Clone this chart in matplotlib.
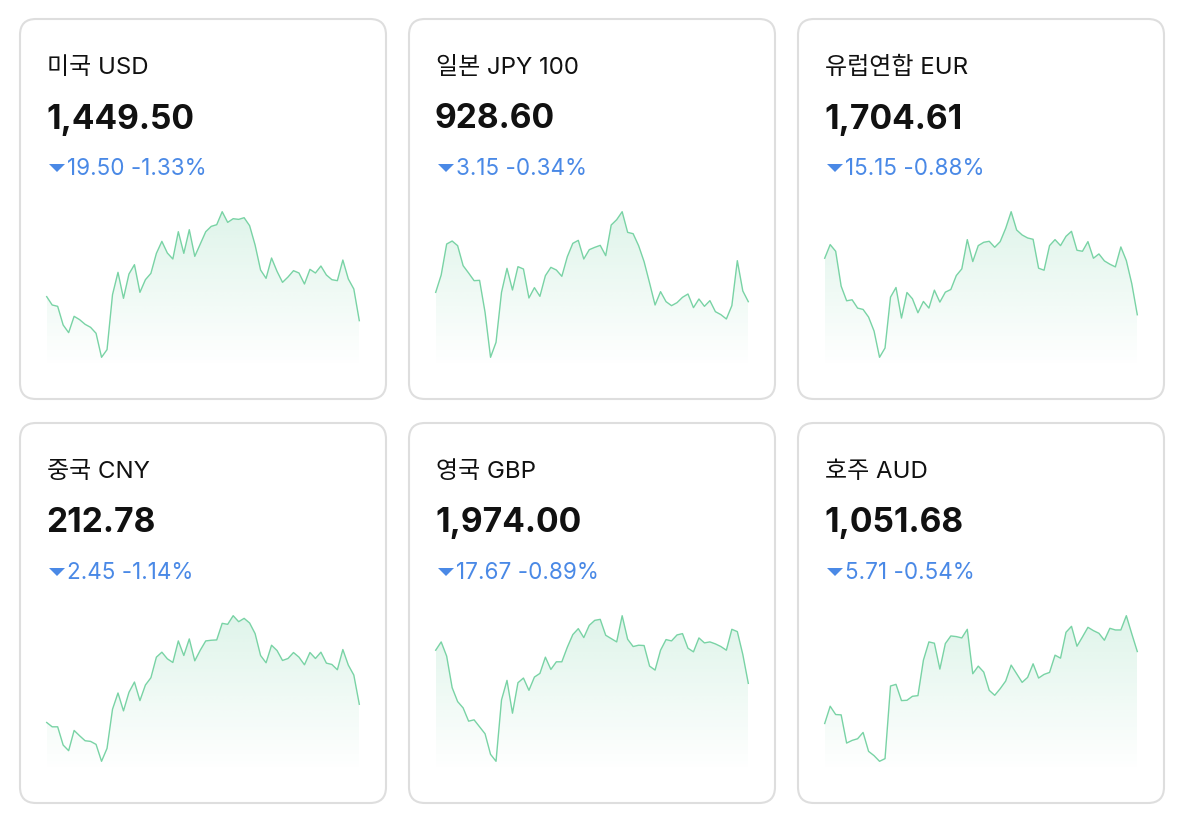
import matplotlib
matplotlib.use("Agg")
import matplotlib.pyplot as plt
from matplotlib.patches import FancyBboxPatch, Polygon
import numpy as np

plt.rcParams['font.family'] = ['Inter', 'Noto Sans CJK KR', 'DejaVu Sans']

# ---------------- data ----------------
titles = ["미국 USD", "일본 JPY 100", "유럽연합 EUR", "중국 CNY", "영국 GBP", "호주 AUD"]
prices = ["1,449.50", "928.60", "1,704.61", "212.78", "1,974.00", "1,051.68"]
changes = ["19.50 -1.33%", "3.15 -0.34%", "15.15 -0.88%", "2.45 -1.14%", "17.67 -0.89%", "5.71 -0.54%"]

# sparkline levels (relative units; higher = larger)
usd = [207, 182, 178, 122, 99, 148, 138, 124, 115, 97, 25, 48, 213, 280, 202, 275, 303, 220, 258, 277,
       337, 373, 338, 320, 402, 337, 408, 328, 365, 402, 418, 423, 462, 430, 441, 439, 444, 420, 362, 287,
       262, 323, 283, 250, 266, 285, 278, 245, 289, 278, 299, 272, 258, 255, 317, 260, 230, 135]
jpy = [220, 272, 365, 374, 360, 300, 278, 255, 256, 160, 25, 70, 220, 292, 227, 297, 290, 203, 234, 208,
       270, 295, 287, 268, 327, 367, 376, 320, 348, 355, 361, 330, 422, 438, 462, 400, 396, 360, 312, 248,
       182, 222, 192, 180, 189, 205, 215, 174, 200, 178, 195, 162, 153, 140, 180, 315, 224, 192]
eur = [322, 363, 343, 238, 194, 197, 172, 168, 145, 103, 24, 52, 205, 234, 142, 219, 200, 158, 192, 172,
       226, 190, 220, 228, 270, 290, 378, 312, 360, 370, 373, 355, 372, 412, 462, 407, 392, 383, 379, 292,
       286, 360, 378, 360, 388, 403, 346, 343, 372, 322, 335, 314, 304, 296, 356, 315, 245, 152]
cny = [130, 117, 117, 62, 45, 106, 90, 75, 73, 64, 13, 52, 170, 219, 165, 221, 252, 196, 243, 265,
       327, 342, 322, 311, 376, 332, 382, 316, 348, 376, 378, 379, 429, 426, 452, 434, 444, 430, 398, 332,
       310, 363, 347, 317, 323, 341, 327, 304, 341, 323, 342, 309, 305, 289, 350, 303, 273, 185]
gbp = [348, 373, 330, 235, 193, 174, 134, 138, 117, 96, 34, 13, 198, 257, 158, 250, 264, 227, 267, 278,
       327, 290, 313, 313, 357, 395, 413, 386, 423, 438, 441, 393, 383, 373, 452, 381, 359, 363, 362, 300,
       288, 348, 380, 376, 394, 398, 354, 343, 385, 370, 373, 367, 359, 348, 411, 404, 335, 248]
aud = [127, 179, 154, 153, 68, 76, 81, 100, 43, 30, 13, 21, 240, 245, 196, 197, 209, 211, 318, 373,
       369, 291, 368, 391, 389, 385, 411, 277, 300, 282, 227, 212, 232, 255, 303, 277, 251, 266, 307, 264,
       275, 281, 333, 324, 402, 420, 360, 388, 417, 407, 399, 378, 414, 409, 409, 452, 397, 344]
series = [usd, jpy, eur, cny, gbp, aud]

# ---------------- layout ----------------
W, H = 1200, 828
fig = plt.figure(figsize=(W / 100, H / 100), dpi=100)
fig.patch.set_facecolor("white")

bg = fig.add_axes([0, 0, 1, 1])
bg.set_xlim(0, W)
bg.set_ylim(H, 0)
bg.axis("off")

card_x = [20, 409, 798]
card_y = [20, 424]
card_w, card_h = 366, 380

line_color = "#79d3a5"
fill_rgb = np.array([0x4c, 0xc3, 0x8a]) / 255.0
blue = "#4a89e6"

for i in range(6):
    r, c = divmod(i, 3)
    x0, y0 = card_x[c], card_y[r]
    card = FancyBboxPatch((x0, y0), card_w, card_h,
                          boxstyle="round,pad=0,rounding_size=16",
                          facecolor="white", edgecolor="#dedede", linewidth=1.5)
    bg.add_patch(card)

    tx = x0 + 27
    bg.text(tx, y0 + 48, titles[i], fontsize=17.3, color="#111111", va="center", ha="left")
    bg.text(tx - 1, y0 + 99.5, prices[i], fontsize=24.2, fontweight="bold", color="#111111",
            va="center", ha="left")
    # small down triangle icon
    tri = Polygon([(x0 + 29, y0 + 145), (x0 + 45, y0 + 145), (x0 + 37, y0 + 153)],
                  closed=True, facecolor=blue, edgecolor="none")
    bg.add_patch(tri)
    bg.text(tx + 20, y0 + 149, changes[i], fontsize=16.2, color=blue, va="center", ha="left")

    # sparkline axes
    vals = np.array(series[i], dtype=float)
    n = len(vals)
    ax_left, ax_right = x0 + 26.7, x0 + 339.3
    ax_top, ax_bot = y0 + 185, y0 + 348
    line_top, line_bot = y0 + 192.7, y0 + 338.3
    vmin, vmax = vals.min(), vals.max()
    ppu = (line_bot - line_top) / (vmax - vmin)
    ylo = vmin - (ax_bot - line_bot) / ppu
    yhi = vmax + (line_top - ax_top) / ppu

    ax = fig.add_axes([ax_left / W, 1 - ax_bot / H, (ax_right - ax_left) / W, (ax_bot - ax_top) / H])
    ax.axis("off")
    ax.patch.set_alpha(0)

    xs = np.arange(n)
    poly = ax.fill_between(xs, vals, ylo, facecolor="none", edgecolor="none")
    grad = np.zeros((256, 1, 4))
    grad[:, 0, :3] = fill_rgb
    grad[:, 0, 3] = np.linspace(0.18, 0.0, 256)
    im = ax.imshow(grad, extent=(0, n - 1, ylo, vmax), origin="upper", aspect="auto",
                   interpolation="bilinear", zorder=1)
    im.set_clip_path(poly.get_paths()[0], transform=ax.transData)
    ax.set_xlim(0, n - 1)
    ax.set_ylim(ylo, yhi)
    ax.plot(xs, vals, color=line_color, linewidth=1.0, zorder=2, clip_on=False,
            solid_joinstyle="round")

fig.savefig("out.png", dpi=100, facecolor="white")
